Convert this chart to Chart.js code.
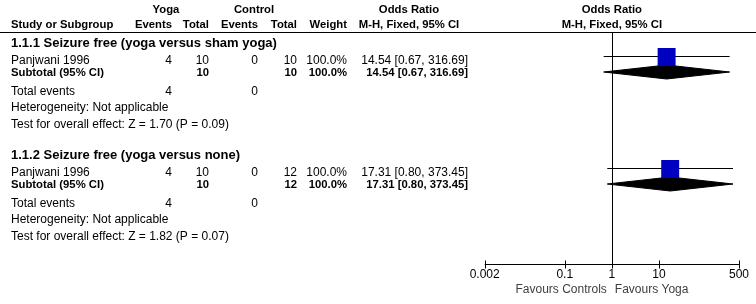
<!DOCTYPE html>
<html>
<head>
<meta charset="utf-8">
<script src="https://cdn.jsdelivr.net/npm/chart.js@4.4.1/dist/chart.umd.min.js"></script>
<style>
  html, body { margin: 0; padding: 0; background: #fff; }
  #forest { display: block; }
</style>
</head>
<body>
<canvas id="forest" width="756" height="304"></canvas>
<script>
// data
const groups = ['1.1.1 Seizure free (yoga versus sham yoga)', '1.1.2 Seizure free (yoga versus none)'];
const studies = ['Panjwani 1996', 'Panjwani 1996'];
const yogaEvents = [4, 4];
const yogaTotal = [10, 10];
const ctrlEvents = [0, 0];
const ctrlTotal = [10, 12];
const weights = [100.0, 100.0];
const oddsRatio = [14.54, 17.31];
const ciLow = [0.67, 0.80];
const ciHigh = [316.69, 373.45];
const subOR = [14.54, 17.31];
const subLow = [0.67, 0.80];
const subHigh = [316.69, 373.45];
const zValues = [1.70, 1.82];
const pValues = [0.09, 0.07];
const tickValues = [0.002, 0.1, 1, 10, 500];
const tickLabels = ['0.002', '0.1', '1', '10', '500'];

// layout (pixels)
const FONT = '"Liberation Sans", Arial, sans-serif';
const groupStep = 112;
const rows = { title: 43, study: 61, sub: 73, tot: 92, het: 108, test: 125 };
const ciY = 56.5, squareY = 57, diamondY = 72, diamondHalf = 7;
const cols = { yEv: 172, yTot: 209, cEv: 258, cTot: 297, weight: 347, orText: 468 };
const headerLineY = 32.5, axisY = 264.5;

const fmt = v => v.toFixed(2);

const datasets = [];
studies.forEach((s, i) => {
  const off = i * groupStep;
  datasets.push({
    label: s + ' square',
    data: [{ x: oddsRatio[i], y: squareY + off }],
    pointStyle: 'rect',
    pointRadius: 12.7,
    backgroundColor: '#0000c0',
    borderWidth: 0,
    order: 1
  });
  datasets.push({
    label: s + ' CI',
    data: [{ x: ciLow[i], y: ciY + off }, { x: ciHigh[i], y: ciY + off }],
    showLine: true,
    borderColor: '#000',
    borderWidth: 1,
    pointRadius: 0,
    order: 2
  });
  datasets.push({
    label: 'Subtotal ' + i,
    data: [
      { x: subLow[i], y: diamondY + off },
      { x: subOR[i], y: diamondY + off - diamondHalf },
      { x: subHigh[i], y: diamondY + off },
      { x: subOR[i], y: diamondY + off + diamondHalf },
      { x: subLow[i], y: diamondY + off }
    ],
    showLine: true,
    fill: 'shape',
    backgroundColor: '#000',
    borderColor: '#000',
    borderWidth: 1,
    pointRadius: 0,
    order: 3
  });
});

// weight: '' normal 12px, 'b' bold header size, 't' bold group title
function txt(ctx, s, x, y, align, style, color) {
  if (style === 'b') ctx.font = 'bold 11.3px ' + FONT;
  else if (style === 't') ctx.font = 'bold 13px ' + FONT;
  else ctx.font = '12px ' + FONT;
  ctx.textAlign = align;
  ctx.textBaseline = 'middle';
  ctx.fillStyle = color || '#000';
  ctx.fillText(s, x, y);
}

const tablePlugin = {
  id: 'table',
  afterDraw(chart) {
    const ctx = chart.ctx;
    const xs = chart.scales.x;
    const x1 = xs.getPixelForValue(1);
    ctx.save();

    // headers
    txt(ctx, 'Yoga', 166, 10, 'center', 'b');
    txt(ctx, 'Control', 254, 10, 'center', 'b');
    txt(ctx, 'Odds Ratio', 409, 10, 'center', 'b');
    txt(ctx, 'Odds Ratio', x1, 10, 'center', 'b');
    txt(ctx, 'Study or Subgroup', 11, 25, 'left', 'b');
    txt(ctx, 'Events', cols.yEv, 25, 'right', 'b');
    txt(ctx, 'Total', cols.yTot, 25, 'right', 'b');
    txt(ctx, 'Events', cols.cEv, 25, 'right', 'b');
    txt(ctx, 'Total', cols.cTot, 25, 'right', 'b');
    txt(ctx, 'Weight', cols.weight, 25, 'right', 'b');
    txt(ctx, 'M-H, Fixed, 95% CI', 409, 25, 'center', 'b');
    txt(ctx, 'M-H, Fixed, 95% CI', x1, 25, 'center', 'b');

    ctx.strokeStyle = '#000';
    ctx.lineWidth = 1;
    ctx.beginPath();
    ctx.moveTo(0, headerLineY);
    ctx.lineTo(chart.width, headerLineY);
    ctx.stroke();

    groups.forEach((g, i) => {
      const off = i * groupStep;
      txt(ctx, g, 11, rows.title + off, 'left', 't');
      txt(ctx, studies[i], 11, rows.study + off, 'left');
      txt(ctx, String(yogaEvents[i]), cols.yEv, rows.study + off, 'right');
      txt(ctx, String(yogaTotal[i]), cols.yTot, rows.study + off, 'right');
      txt(ctx, String(ctrlEvents[i]), cols.cEv, rows.study + off, 'right');
      txt(ctx, String(ctrlTotal[i]), cols.cTot, rows.study + off, 'right');
      txt(ctx, weights[i].toFixed(1) + '%', cols.weight, rows.study + off, 'right');
      txt(ctx, fmt(oddsRatio[i]) + ' [' + fmt(ciLow[i]) + ', ' + fmt(ciHigh[i]) + ']', cols.orText, rows.study + off, 'right');

      txt(ctx, 'Subtotal (95% CI)', 11, rows.sub + off, 'left', 'b');
      txt(ctx, String(yogaTotal[i]), cols.yTot, rows.sub + off, 'right', 'b');
      txt(ctx, String(ctrlTotal[i]), cols.cTot, rows.sub + off, 'right', 'b');
      txt(ctx, weights[i].toFixed(1) + '%', cols.weight, rows.sub + off, 'right', 'b');
      txt(ctx, fmt(subOR[i]) + ' [' + fmt(subLow[i]) + ', ' + fmt(subHigh[i]) + ']', cols.orText, rows.sub + off, 'right', 'b');

      txt(ctx, 'Total events', 11, rows.tot + off, 'left');
      txt(ctx, String(yogaEvents[i]), cols.yEv, rows.tot + off, 'right');
      txt(ctx, String(ctrlEvents[i]), cols.cEv, rows.tot + off, 'right');
      txt(ctx, 'Heterogeneity: Not applicable', 11, rows.het + off, 'left');
      txt(ctx, 'Test for overall effect: Z = ' + fmt(zValues[i]) + ' (P = ' + fmt(pValues[i]) + ')', 11, rows.test + off, 'left');
    });

    // line of no effect
    const lx = Math.round(x1) + 0.5;
    ctx.strokeStyle = '#000';
    ctx.lineWidth = 1;
    ctx.beginPath();
    ctx.moveTo(lx, headerLineY);
    ctx.lineTo(lx, axisY);
    ctx.stroke();

    // x axis with crossing tick marks
    const left = xs.getPixelForValue(tickValues[0]);
    const right = xs.getPixelForValue(tickValues[tickValues.length - 1]);
    ctx.beginPath();
    ctx.moveTo(left, axisY);
    ctx.lineTo(right, axisY);
    ctx.stroke();
    tickValues.forEach(v => {
      const tx = Math.round(xs.getPixelForValue(v)) + 0.5;
      ctx.beginPath();
      ctx.moveTo(tx, axisY - 4);
      ctx.lineTo(tx, axisY + 4);
      ctx.stroke();
    });
    tickValues.forEach((v, k) => {
      txt(ctx, tickLabels[k], xs.getPixelForValue(v), 275, 'center');
    });
    txt(ctx, 'Favours Controls', x1 - 5, 290, 'right', '', '#404040');
    txt(ctx, 'Favours Yoga', x1 + 3, 290, 'left', '', '#404040');

    ctx.restore();
  }
};

const chart = new Chart(document.getElementById('forest'), {
  type: 'scatter',
  data: { datasets: datasets },
  options: {
    responsive: false,
    devicePixelRatio: 1,
    animation: false,
    layout: { autoPadding: false, padding: { left: 484.7, right: 17, top: 0, bottom: 0 } },
    plugins: { legend: { display: false }, tooltip: { enabled: false } },
    scales: {
      x: { type: 'logarithmic', min: 0.002, max: 500, display: false },
      y: { type: 'linear', min: 0, max: 304, reverse: true, display: false }
    }
  },
  plugins: [tablePlugin]
});
</script>
</body>
</html>
